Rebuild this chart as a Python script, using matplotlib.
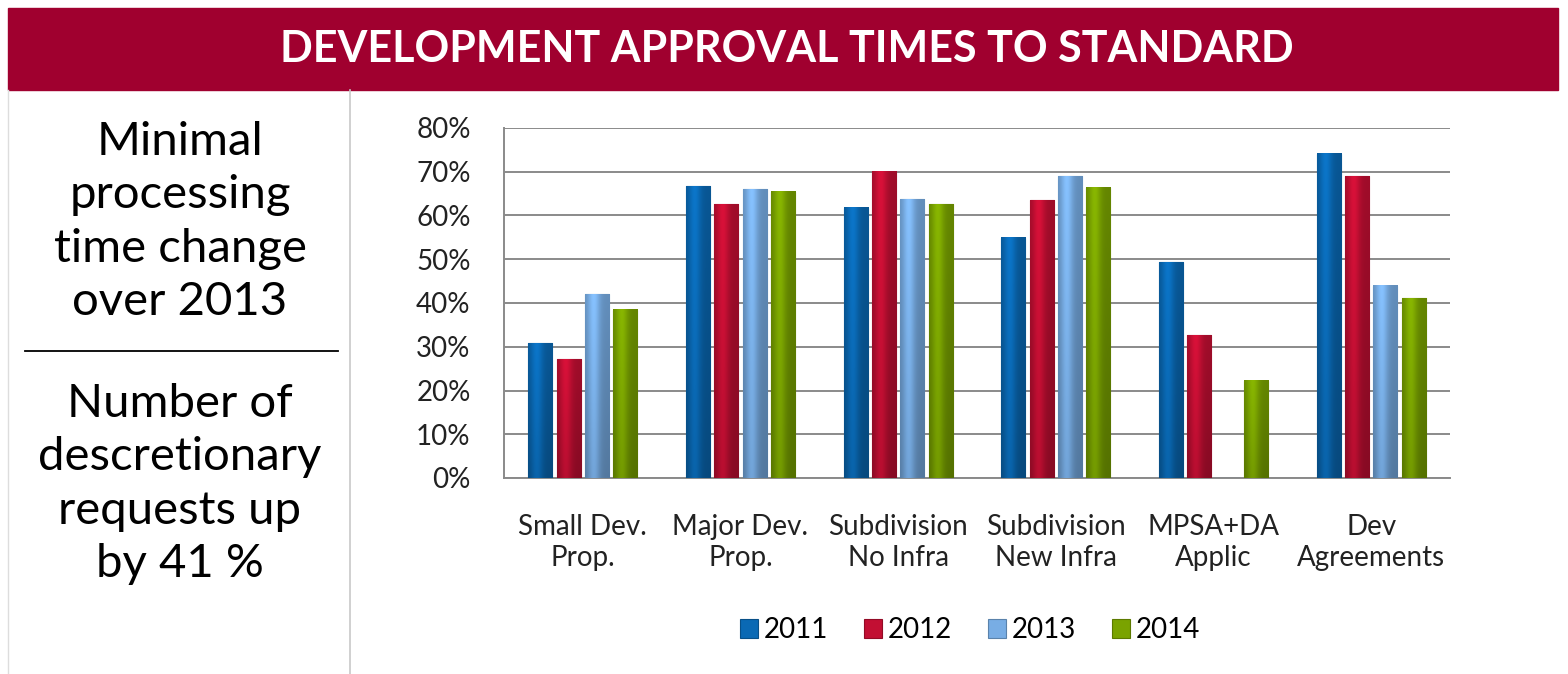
import numpy as np
import matplotlib
matplotlib.use("Agg")
import matplotlib.pyplot as plt
from matplotlib.colors import to_rgb
from matplotlib.patches import Rectangle

plt.rcParams['font.family'] = ['Lato', 'DejaVu Sans']

categories = ["Small Dev.\nProp.", "Major Dev.\nProp.", "Subdivision\nNo Infra",
              "Subdivision\nNew Infra", "MPSA+DA\nApplic", "Dev\nAgreements"]
years = ["2011", "2012", "2013", "2014"]
v2011 = [30.8, 66.7, 61.8, 54.9, 49.3, 74.1]
v2012 = [27.1, 62.6, 70.0, 63.5, 32.6, 69.0]
v2013 = [42.0, 66.0, 63.7, 69.0, 0.0, 43.9]
v2014 = [38.4, 65.4, 62.6, 66.3, 22.2, 41.1]
series = [v2011, v2012, v2013, v2014]
colors = ["#0a69b4", "#c20f33", "#78ade4", "#7aa300"]

left_note = "Minimal\nprocessing\ntime change\nover 2013"
right_note = "Number of\ndescretionary\nrequests up\nby 41 %"
title = "DEVELOPMENT APPROVAL TIMES TO STANDARD"

W, H = 1568, 674
fig = plt.figure(figsize=(W / 100, H / 100), dpi=100)

# title banner
fig.patches.append(Rectangle((8 / W, 1 - 90 / H), 1550 / W, 82 / H,
                             transform=fig.transFigure, color="#a0002f", zorder=0))
fig.text(787 / W, 1 - 49 / H, title, color="white", fontsize=31, fontweight="bold",
         ha="center", va="center")

# left panel
fig.lines.append(plt.Line2D([350 / W, 350 / W], [0, 1 - 90 / H], transform=fig.transFigure,
                            color="#c8c8c8", lw=1.2))
fig.lines.append(plt.Line2D([8 / W, 8 / W], [0, 1 - 90 / H], transform=fig.transFigure,
                            color="#dddddd", lw=1))
fig.lines.append(plt.Line2D([25 / W, 338 / W], [1 - 351 / H, 1 - 351 / H],
                            transform=fig.transFigure, color="black", lw=1.3))
fig.text(180 / W, 1 - 222 / H, left_note, fontsize=34, ha="center", va="center",
         linespacing=1.33)
fig.text(180 / W, 1 - 484 / H, right_note, fontsize=34, ha="center", va="center",
         linespacing=1.33)

ax = fig.add_axes([504 / W, 196 / H, 946 / W, 350 / H])
x = np.arange(len(categories))
step = 0.18
width = 0.153


def shade(c, f):
    r = np.array(to_rgb(c))
    return np.clip(r * f, 0, 1)


for i, (vals, col) in enumerate(zip(series, colors)):
    pos = x + (i - 1.5) * step
    bars = ax.bar(pos, np.array(vals) / 100, width, color=col, label=years[i],
                  edgecolor=shade(col, 0.75), linewidth=0.8, zorder=3)
    for b in bars:
        h = b.get_height()
        if h <= 0:
            continue
        # horizontal gradient to mimic the bevelled look
        t = np.linspace(0, 1, 40)
        prof = 0.82 + 0.3 * np.exp(-((t - 0.35) / 0.25) ** 2)
        img = np.array([[shade(col, p) for p in prof]])
        vert = np.linspace(1.0, 0.85, 30)[:, None, None]
        img = np.clip(img * vert, 0, 1)
        ax.imshow(img, extent=[b.get_x(), b.get_x() + b.get_width(), 0, h],
                  aspect="auto", origin="upper", zorder=4, interpolation="bilinear")

ax.set_xlim(-0.5, len(categories) - 0.5)
ax.set_ylim(0, 0.8)
ax.set_yticks(np.arange(0, 0.81, 0.1))
ax.set_yticklabels([f"{int(round(v * 100))}%" for v in np.arange(0, 0.81, 0.1)])
ax.set_xticks(x)
ax.set_xticklabels(categories, linespacing=1.25)
ax.tick_params(axis="both", length=0, labelsize=20, colors="#222222")
ax.tick_params(axis="y", pad=24)
ax.tick_params(axis="x", pad=26)
ax.grid(axis="y", color="#8a8a8a", lw=1.4, zorder=0)
for s in ["top", "right"]:
    ax.spines[s].set_visible(False)
for s in ["left", "bottom"]:
    ax.spines[s].set_color("#8a8a8a")
    ax.spines[s].set_linewidth(1.4)

ax.legend(loc="center", bbox_to_anchor=(970 / W, 1 - 630 / H), bbox_transform=fig.transFigure,
          ncol=4, frameon=False, fontsize=20, handlelength=0.65, handleheight=0.65,
          handletextpad=0.2, columnspacing=1.3)

fig.savefig("out.png", dpi=100)
